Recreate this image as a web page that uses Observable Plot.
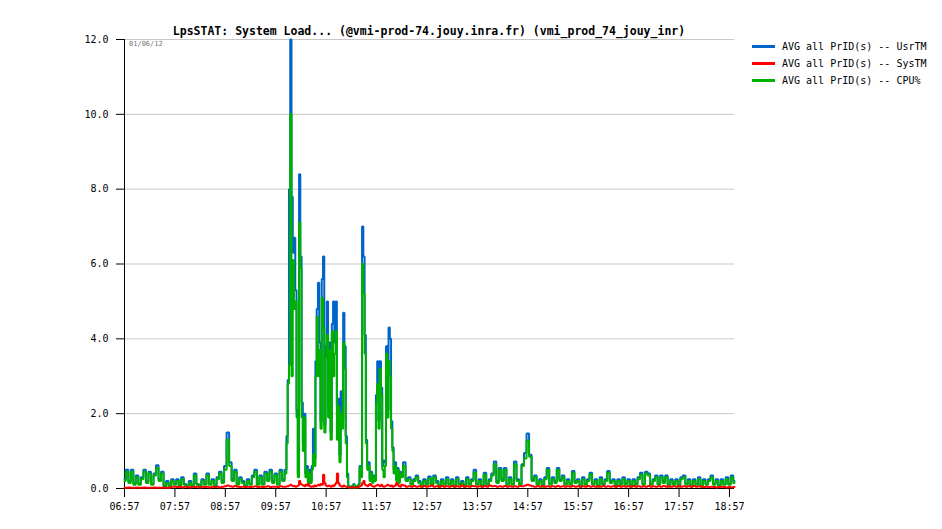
<!DOCTYPE html>
<html><head><meta charset="utf-8">
<script src="https://cdn.jsdelivr.net/npm/d3@7"></script>
<script src="https://cdn.jsdelivr.net/npm/@observablehq/plot@0.6"></script>
<style>
body{margin:0;background:#fff;}
#wrap{position:relative;width:942px;height:529px;font-family:"DejaVu Sans Mono",monospace;color:#000;}
#title{position:absolute;top:24px;left:429px;transform:translateX(-50%);white-space:nowrap;font-weight:bold;font-size:11.5px;line-height:14px;}
#date{position:absolute;top:40px;left:129px;font-size:7px;line-height:8px;color:#777;}
#legend{position:absolute;top:38px;left:752px;font-size:10px;line-height:17px;}
.row{display:flex;align-items:center;white-space:nowrap;}
.sw{display:inline-block;width:23px;height:2.5px;margin-right:7px;}
</style></head>
<body>
<div id="wrap">
<div id="chart"></div>
<div id="title"></div>
<div id="date"></div>
<div id="legend"></div>
</div>
<script>
const titleText = "LpsSTAT: System Load... (@vmi-prod-74.jouy.inra.fr) (vmi_prod_74_jouy_inr)";
const dateText = "01/06/12";
const seriesNames = ["AVG all PrID(s) -- UsrTM", "AVG all PrID(s) -- SysTM", "AVG all PrID(s) -- CPU%"];
const seriesColors = ["#0064c8", "#ff0000", "#00b000"];
// sampling: minutes after 06:57 (three segments; denser during the busy period)
const segments = [{start: 0, step: 3, count: 64}, {start: 192, step: 1.5, count: 92}, {start: 330, step: 3, count: 133}];
const tickMinutes = [0,60,120,180,240,300,360,420,480,540,600,660,720];
const tickLabels = ["06:57","07:57","08:57","09:57","10:57","11:57","12:57","13:57","14:57","15:57","16:57","17:57","18:57"];
const yTicks = [0,2,4,6,8,10,12];

const usrTM = [
// 06:57 - 10:06 (3 min)
0.25,0.5,0.2,0.5,0.15,0.35,0.12,0.3,0.5,0.2,
0.45,0.12,0.4,0.62,0.25,0.45,0.08,0.2,0.08,0.25,
0.12,0.25,0.08,0.3,0.12,0.08,0.2,0.08,0.4,0.12,
0.08,0.25,0.12,0.4,0.12,0.25,0.08,0.3,0.45,0.2,
0.6,1.5,0.7,0.25,0.5,0.12,0.3,0.2,0.08,0.25,
0.12,0.35,0.5,0.12,0.35,0.12,0.45,0.25,0.5,0.2,
0.4,0.12,0.5,0.25,
// 10:09 - 12:25 (1.5 min)
0.5,1.4,2.9,8.0,12.0,7.8,6.3,6.7,5.3,2.1,
0.4,8.4,6.2,2.3,1.2,2.0,0.4,0.6,0.2,0.5,
0.2,0.6,1.6,0.8,3.4,4.8,5.5,3.9,1.8,5.6,
6.2,1.7,3.8,5.0,2.1,3.9,1.5,4.4,5.0,3.9,
5.0,2.2,2.4,0.9,2.6,1.8,4.7,3.8,1.4,0.4,
0.06,0.04,0.06,0.04,0.12,0.04,0.06,0.04,0.12,0.6,
0.4,7.0,6.2,4.1,1.3,0.6,0.7,0.25,0.45,0.2,
0.35,0.25,2.5,3.4,1.8,3.4,2.7,0.6,0.75,0.7,
3.8,2.1,4.3,4.0,1.8,1.1,0.5,0.7,0.25,0.55,
0.2,0.45,
// 12:27 - 19:03 (3 min)
0.35,0.7,0.25,0.3,0.12,0.25,0.35,0.2,0.08,0.25,
0.12,0.32,0.12,0.35,0.2,0.08,0.25,0.12,0.3,0.12,
0.25,0.08,0.3,0.12,0.2,0.08,0.3,0.12,0.25,0.5,
0.12,0.25,0.08,0.42,0.12,0.25,0.4,0.72,0.2,0.55,
0.25,0.55,0.12,0.3,0.12,0.72,0.25,0.12,0.65,0.95,
1.47,0.9,0.25,0.35,0.12,0.25,0.08,0.3,0.55,0.12,
0.3,0.2,0.55,0.25,0.35,0.12,0.25,0.12,0.47,0.2,
0.25,0.08,0.3,0.12,0.25,0.42,0.12,0.25,0.08,0.3,
0.12,0.25,0.47,0.2,0.25,0.08,0.25,0.12,0.3,0.12,
0.25,0.08,0.25,0.12,0.3,0.42,0.12,0.45,0.4,0.12,
0.25,0.35,0.12,0.35,0.2,0.35,0.08,0.25,0.12,0.25,
0.08,0.3,0.35,0.12,0.25,0.08,0.25,0.12,0.3,0.08,
0.25,0.12,0.25,0.35,0.12,0.25,0.08,0.25,0.12,0.3,
0.12,0.35,0.2];

const sysTM = [
0.02,0.02,0.03,0.02,0.02,0.03,0.02,0.02,0.03,0.02,
0.02,0.02,0.03,0.02,0.02,0.02,0.03,0.02,0.02,0.05,
0.05,0.04,0.05,0.03,0.05,0.04,0.03,0.05,0.04,0.05,
0.03,0.05,0.04,0.05,0.03,0.05,0.04,0.05,0.03,0.05,
0.06,0.08,0.06,0.05,0.07,0.05,0.04,0.05,0.04,0.05,
0.04,0.05,0.06,0.04,0.05,0.04,0.05,0.06,0.04,0.05,
0.05,0.04,0.06,0.05,
0.05,0.06,0.06,0.08,0.1,0.08,0.06,0.07,0.05,0.06,
0.08,0.2,0.12,0.1,0.08,0.06,0.1,0.08,0.12,0.06,
0.05,0.06,0.05,0.08,0.06,0.08,0.1,0.08,0.12,0.1,
0.37,0.15,0.08,0.06,0.08,0.06,0.05,0.08,0.06,0.1,
0.15,0.4,0.15,0.08,0.06,0.05,0.08,0.06,0.05,0.04,
0.03,0.03,0.03,0.04,0.03,0.03,0.04,0.03,0.05,0.06,
0.08,0.15,0.2,0.1,0.08,0.06,0.1,0.12,0.08,0.06,
0.05,0.06,0.08,0.1,0.08,0.06,0.1,0.06,0.05,0.06,
0.08,0.1,0.08,0.06,0.08,0.05,0.06,0.08,0.15,0.1,
0.06,0.05,
0.1,0.08,0.05,0.06,0.05,0.07,0.05,0.06,0.05,0.07,
0.05,0.06,0.08,0.05,0.06,0.05,0.07,0.05,0.06,0.05,
0.07,0.05,0.06,0.05,0.08,0.05,0.06,0.05,0.07,0.06,
0.05,0.06,0.05,0.07,0.05,0.08,0.06,0.07,0.05,0.06,
0.05,0.07,0.05,0.06,0.05,0.06,0.05,0.07,0.06,0.08,
0.1,0.08,0.06,0.05,0.06,0.05,0.07,0.05,0.06,0.05,
0.06,0.05,0.07,0.05,0.06,0.05,0.06,0.05,0.07,0.05,
0.06,0.05,0.06,0.05,0.07,0.05,0.06,0.05,0.06,0.05,
0.07,0.05,0.06,0.05,0.06,0.05,0.07,0.05,0.06,0.05,
0.06,0.05,0.07,0.05,0.06,0.05,0.06,0.05,0.07,0.05,
0.06,0.05,0.06,0.05,0.07,0.05,0.06,0.05,0.06,0.05,
0.07,0.05,0.06,0.05,0.06,0.05,0.07,0.05,0.06,0.05,
0.04,0.05,0.04,0.05,0.04,0.03,0.04,0.05,0.04,0.03,
0.04,0.03,0.04];

const cpuPct = [
0.2,0.45,0.15,0.45,0.1,0.3,0.1,0.25,0.45,0.15,
0.4,0.1,0.35,0.55,0.2,0.4,0.05,0.15,0.05,0.2,
0.1,0.2,0.05,0.25,0.1,0.05,0.15,0.05,0.35,0.1,
0.05,0.2,0.1,0.35,0.1,0.2,0.05,0.25,0.4,0.15,
0.5,1.3,0.6,0.2,0.45,0.1,0.25,0.15,0.05,0.2,
0.1,0.3,0.45,0.1,0.3,0.1,0.4,0.2,0.45,0.15,
0.35,0.1,0.45,0.2,
0.4,1.2,2.8,3.3,10.0,3.0,6.1,4.8,5.0,1.9,
0.3,7.1,5.9,1.9,1.0,1.9,0.3,0.5,0.1,0.4,
0.15,0.5,0.9,0.6,3.0,4.6,3.0,3.7,1.6,5.1,
4.3,1.5,3.5,4.1,1.9,3.7,1.3,4.2,3.0,3.6,
4.2,1.3,2.2,0.7,2.0,1.6,3.9,3.2,1.2,0.3,
0.05,0.03,0.05,0.03,0.1,0.03,0.05,0.03,0.1,0.56,
0.3,6.0,5.2,3.6,1.2,0.5,0.6,0.2,0.4,0.15,
0.3,0.2,2.3,2.8,1.6,3.2,2.5,0.5,0.3,0.6,
3.6,1.9,3.4,3.0,1.6,1.0,0.4,0.6,0.2,0.5,
0.15,0.4,
0.3,0.6,0.2,0.25,0.1,0.2,0.3,0.15,0.05,0.2,
0.1,0.27,0.1,0.3,0.15,0.05,0.2,0.1,0.25,0.1,
0.2,0.05,0.25,0.1,0.15,0.05,0.25,0.1,0.2,0.43,
0.1,0.2,0.05,0.37,0.1,0.2,0.35,0.65,0.15,0.5,
0.2,0.5,0.1,0.25,0.1,0.65,0.2,0.1,0.6,0.8,
1.28,0.85,0.2,0.3,0.1,0.2,0.05,0.25,0.5,0.1,
0.25,0.15,0.5,0.2,0.3,0.1,0.2,0.1,0.42,0.15,
0.2,0.05,0.25,0.1,0.2,0.38,0.1,0.2,0.05,0.25,
0.1,0.2,0.42,0.15,0.2,0.05,0.2,0.1,0.25,0.1,
0.2,0.05,0.2,0.1,0.25,0.37,0.1,0.4,0.35,0.1,
0.2,0.3,0.1,0.3,0.15,0.3,0.05,0.2,0.1,0.2,
0.05,0.25,0.3,0.1,0.2,0.05,0.2,0.1,0.25,0.05,
0.2,0.1,0.2,0.3,0.1,0.2,0.05,0.2,0.1,0.25,
0.1,0.3,0.15];

const sampleMinutes = segments.flatMap(s => d3.range(s.count).map(k => s.start + k * s.step));
const seriesValues = [usrTM, sysTM, cpuPct];
const rows = seriesValues.map(vals => vals.map((v, i) => ({t: sampleMinutes[i], v})));
const lastMinute = sampleMinutes[sampleMinutes.length - 1];

const font = "'DejaVu Sans Mono', monospace";
const chart = Plot.plot({
  width: 942, height: 529,
  marginLeft: 124, marginRight: 208, marginTop: 39, marginBottom: 41,
  style: {fontFamily: font, fontSize: "10px", color: "#000", background: "#fff"},
  x: {domain: [0, lastMinute]},
  y: {domain: [0, 12]},
  marks: [
    Plot.gridY(yTicks, {stroke: "#c8c8c8", strokeOpacity: 1, strokeWidth: 1}),
    Plot.axisY(yTicks, {tickSize: 8, tickPadding: 8, tickFormat: d => d.toFixed(1), fontSize: 10, label: null}),
    Plot.axisX(tickMinutes, {tickSize: 9, tickPadding: 5, tickFormat: d => tickLabels[tickMinutes.indexOf(d)], fontSize: 10, label: null}),
    Plot.ruleY([0], {stroke: "#000"}),
    Plot.ruleX([0], {stroke: "#000"}),
    ...[0, 2, 1].map(k => Plot.line(rows[k], {x: "t", y: "v", stroke: seriesColors[k], strokeWidth: 2, curve: "step", strokeLinejoin: "miter"}))
  ]
});
document.getElementById("chart").appendChild(chart);
document.getElementById("title").textContent = titleText;
document.getElementById("date").textContent = dateText;
const leg = document.getElementById("legend");
seriesNames.forEach((n, k) => {
  const r = document.createElement("div"); r.className = "row";
  const s = document.createElement("span"); s.className = "sw"; s.style.background = seriesColors[k];
  r.appendChild(s); r.appendChild(document.createTextNode(n)); leg.appendChild(r);
});
</script>
</body></html>
